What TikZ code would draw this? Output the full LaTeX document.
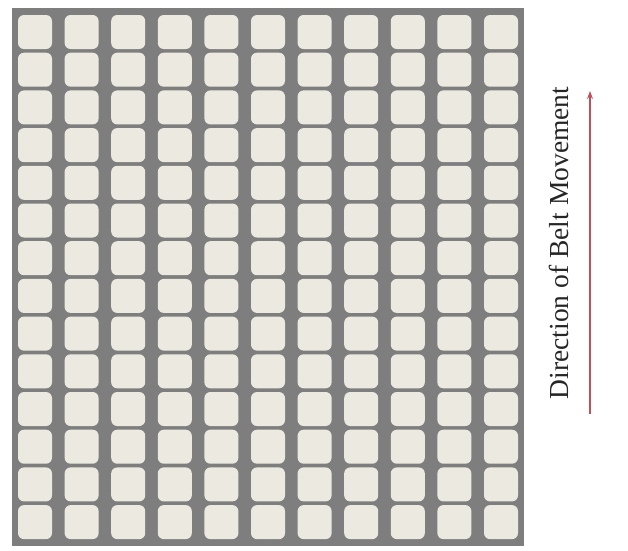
\documentclass[tikz,border=0pt]{standalone}
\usepackage{fontspec}
\setmainfont{Liberation Serif}
\usetikzlibrary{arrows.meta, positioning}
\definecolor{beltgrey}{RGB}{126,126,126}
\definecolor{tilefill}{RGB}{236,234,224}
\definecolor{arrowred}{RGB}{192,80,88}
\tikzset{
  belt/.style={fill=beltgrey, draw=none},
  tile/.style={rectangle, fill=tilefill, draw=none,
    minimum width=34pt, minimum height=34pt, inner sep=0pt,
    rounded corners=6pt},
  dirlabel/.style={rotate=90, font=\fontsize{27.5}{33}\selectfont, text=black!85},
  dirarrow/.style={-{Stealth[length=8pt, width=6pt, inset=3pt]}, line width=1.3pt, color=arrowred}
}
\begin{document}
\begin{tikzpicture}[x=1pt, y=-1pt]
  \useasboundingbox (0,0) rectangle (628,550);
  % belt
  \fill[belt] (12,8) rectangle (524,546);
  % tiles
  \foreach \c in {0,...,10}{
    \foreach \r in {0,...,13}{
      \node[tile] (t-\c-\r) at ({35+46.6*\c}, {32+37.7*\r}) {};
    }
  }
  % direction
  \node[dirlabel] (label) at (559,243) {Direction of Belt Movement};
  \coordinate (arrowstart) at (590,414);
  \coordinate (arrowend) at (590,91);
  \draw[dirarrow] (arrowstart) -- (arrowend);
\end{tikzpicture}
\end{document}
